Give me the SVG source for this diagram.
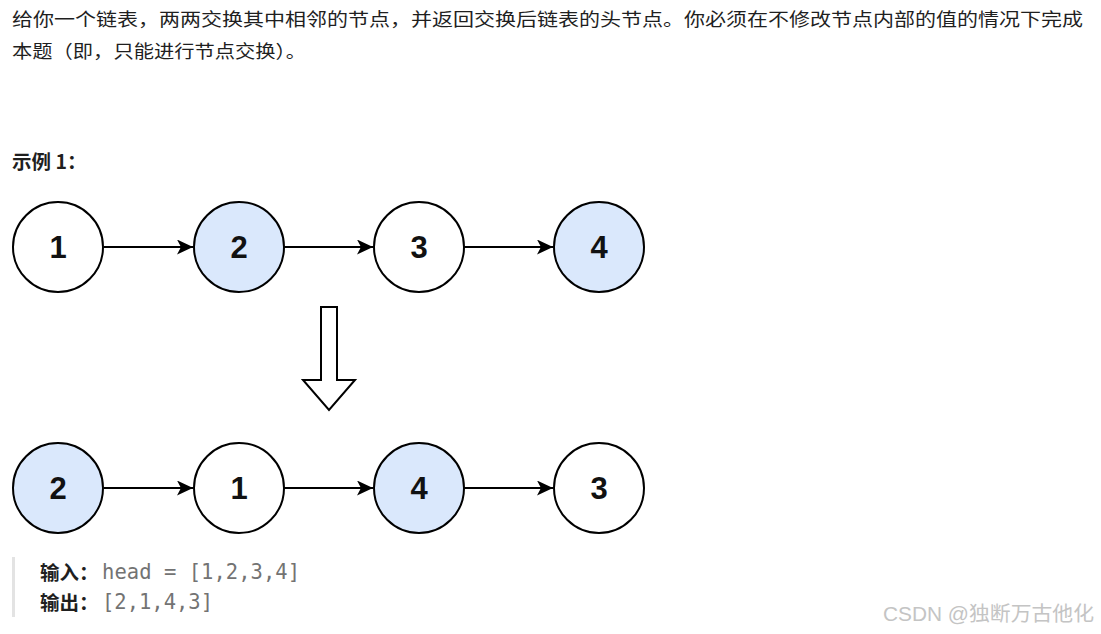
<svg xmlns="http://www.w3.org/2000/svg" width="1101" height="634" viewBox="0 0 1101 634">
<style>
.p{font-family:"Noto Sans CJK SC","Liberation Sans",sans-serif;font-size:18px;fill:#1f1f1f}
.b{font-family:"Noto Sans CJK SC","Liberation Sans",sans-serif;font-size:19.5px;font-weight:bold;fill:#1f1f1f}
.m{font-family:"DejaVu Sans Mono","Liberation Mono",monospace;font-size:20.5px;fill:#737373}
.n circle{stroke:#000;stroke-width:2}
.w{fill:#fff}
.bl{fill:#dae8fc}
.t{font-family:"Liberation Sans",Arial,sans-serif;font-size:31px;font-weight:bold;fill:#111;text-anchor:middle}
.c line{stroke:#000;stroke-width:2}
.wm{font-family:"Liberation Sans","Noto Sans CJK SC",sans-serif;font-size:20px;fill:#c4c4c4}
</style>
<defs>
<marker id="ah" markerWidth="16" markerHeight="15" refX="16" refY="7.5" orient="auto" markerUnits="userSpaceOnUse">
<path d="M0,0 L16,7.5 L0,15 L4,7.5 z" fill="#000"/>
</marker>
</defs>
<rect width="1101" height="634" fill="#fff"/>
<text class="p" x="12" y="26" textLength="1071" lengthAdjust="spacingAndGlyphs">给你一个链表，两两交换其中相邻的节点，并返回交换后链表的头节点。你必须在不修改节点内部的值的情况下完成</text>
<text class="p" x="12" y="58" textLength="294" lengthAdjust="spacingAndGlyphs">本题（即，只能进行节点交换）。</text>
<text class="b" x="12" y="169">示例 1：</text>
<g id="top1" class="n"><circle class="w" cx="58" cy="247" r="45"/><text class="t" x="58" y="258">1</text></g>
<g id="top2" class="n"><circle class="bl" cx="239" cy="247" r="45"/><text class="t" x="239" y="258">2</text></g>
<g id="top3" class="n"><circle class="w" cx="419" cy="247" r="45"/><text class="t" x="419" y="258">3</text></g>
<g id="top4" class="n"><circle class="bl" cx="599" cy="247" r="45"/><text class="t" x="599" y="258">4</text></g>
<g id="bot2" class="n"><circle class="bl" cx="58" cy="488" r="45"/><text class="t" x="58" y="499">2</text></g>
<g id="bot1" class="n"><circle class="w" cx="239" cy="488" r="45"/><text class="t" x="239" y="499">1</text></g>
<g id="bot4" class="n"><circle class="bl" cx="419" cy="488" r="45"/><text class="t" x="419" y="499">4</text></g>
<g id="bot3" class="n"><circle class="w" cx="599" cy="488" r="45"/><text class="t" x="599" y="499">3</text></g>
<g id="connectors" class="c">
<line x1="104" y1="247" x2="193" y2="247" marker-end="url(#ah)"/>
<line x1="284" y1="247" x2="373" y2="247" marker-end="url(#ah)"/>
<line x1="464" y1="247" x2="553" y2="247" marker-end="url(#ah)"/>
<line x1="104" y1="488" x2="193" y2="488" marker-end="url(#ah)"/>
<line x1="284" y1="488" x2="373" y2="488" marker-end="url(#ah)"/>
<line x1="464" y1="488" x2="553" y2="488" marker-end="url(#ah)"/>
</g>
<g id="bigarrow"><polygon points="321,307 337,307 337,380 355,380 329,410 303,380 321,380" fill="#fff" stroke="#000" stroke-width="2" stroke-linejoin="miter"/></g>
<rect x="12" y="557" width="3" height="60" fill="#e3e3e3"/>
<text class="b" x="40" y="580">输入：</text>
<text class="m" x="102" y="579" textLength="198" lengthAdjust="spacing">head = [1,2,3,4]</text>
<text class="b" x="40" y="610">输出：</text>
<text class="m" x="102" y="609" textLength="111" lengthAdjust="spacing">[2,1,4,3]</text>
<text class="wm" x="883" y="621" textLength="211" lengthAdjust="spacingAndGlyphs">CSDN @独断万古他化</text>
</svg>
